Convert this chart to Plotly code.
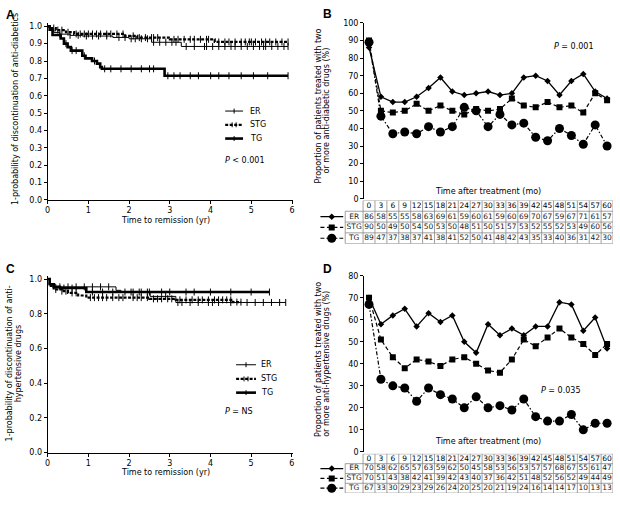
import numpy as np
import plotly.graph_objects as go

W, H = 620, 505
FONT = "DejaVu Sans"

# ---------------- data ----------------
# Panel A: Kaplan-Meier, anti-diabetics
A_ER_t = [0, 0.05, 0.15, 0.3, 0.55, 0.85, 1.6, 2.0, 2.55, 3.28, 5.9]
A_ER_s = [1.0, 0.98, 0.965, 0.955, 0.948, 0.944, 0.936, 0.928, 0.908, 0.884, 0.884]
A_STG_t = [0, 0.05, 0.2, 0.45, 0.65, 1.9, 2.2, 3.0, 4.1, 5.9]
A_STG_s = [1.0, 0.99, 0.978, 0.966, 0.956, 0.945, 0.935, 0.925, 0.91, 0.91]
A_TG_t = [0, 0.05, 0.12, 0.32, 0.4, 0.49, 0.57, 0.85, 0.93, 1.09, 1.21, 1.29, 1.33, 2.87, 5.9]
A_TG_s = [1.0, 0.98, 0.95, 0.93, 0.90, 0.88, 0.86, 0.83, 0.815, 0.80, 0.785, 0.765, 0.755, 0.715, 0.715]
A_ER_c = [0.3, 0.55, 0.75, 0.95, 1.1, 1.25, 1.45, 1.75, 1.9, 2.05, 2.15, 2.3, 2.45, 2.6, 2.75,
          2.9, 3.05, 3.15, 3.4, 3.6, 3.85, 3.9, 4.05, 4.2, 4.35, 4.5, 4.6, 4.75, 4.9, 5.05,
          5.2, 5.3, 5.35, 5.5, 5.65, 5.8, 5.9]
A_STG_c = [0.15, 0.25, 0.35, 0.5, 0.7, 0.8, 0.9, 1.0, 1.1, 1.2, 1.3, 1.45, 1.55, 1.7, 1.85,
           2.1, 2.25, 2.4, 2.55, 2.6, 2.7, 3.1, 3.2, 3.35, 3.5, 3.6, 3.75, 3.9, 3.95, 4.2,
           4.35, 4.45, 4.6, 4.75, 4.85, 4.95, 5.0, 5.1, 5.25, 5.35, 5.45, 5.6, 5.75, 5.9]
A_TG_c = [0.45, 0.6, 0.7, 0.9, 1.15, 1.4, 1.55, 1.8, 2.05, 2.3, 2.5, 2.6, 2.95, 3.1, 3.25,
          3.5, 3.7, 4.0, 4.2, 4.45, 4.75, 5.05, 5.4, 5.9]

# Panel C: Kaplan-Meier, anti-hypertensives
C_ER_t = [0, 0.05, 0.2, 1.68, 1.8, 2.52, 3.15, 5.85]
C_ER_s = [1.0, 0.97, 0.955, 0.935, 0.925, 0.9, 0.865, 0.865]
C_STG_t = [0, 0.05, 0.15, 0.35, 0.5, 0.75, 0.95, 2.5, 3.15, 4.55, 4.75]
C_STG_s = [1.0, 0.96, 0.94, 0.93, 0.92, 0.905, 0.893, 0.886, 0.88, 0.867, 0.867]
C_TG_t = [0, 0.05, 0.15, 0.3, 0.95, 5.45]
C_TG_s = [1.0, 0.97, 0.955, 0.948, 0.925, 0.925]
C_ER_c = [0.3, 0.5, 0.7, 0.9, 1.1, 1.3, 1.5, 1.9, 2.05, 2.25, 2.45, 2.9, 3.2, 3.3, 3.5,
          3.7, 3.95, 4.05, 4.2, 4.5, 4.9, 5.1, 5.3, 5.5, 5.7, 5.85]
C_STG_c = [0.2, 0.35, 0.45, 0.6, 0.7, 1.05, 1.15, 1.25, 1.35, 1.45, 1.6, 1.75, 1.85, 2.1,
           2.2, 2.3, 2.45, 2.6, 2.7, 2.8, 2.95, 3.05, 3.25, 3.4, 3.55, 3.7, 3.8, 3.95, 4.1,
           4.2, 4.3, 4.4, 4.5, 4.65, 4.75]
C_TG_c = [0.4, 0.6, 1.1, 1.35, 1.6, 2.1, 2.3, 2.5, 2.8, 3.0, 3.4, 3.6, 4.0, 4.5, 5.0, 5.45]

# Panels B and D
months = [0, 3, 6, 9, 12, 15, 18, 21, 24, 27, 30, 33, 36, 39, 42, 45, 48, 51, 54, 57, 60]
B_ER = [86, 58, 55, 55, 58, 63, 69, 61, 59, 60, 61, 59, 60, 69, 70, 67, 59, 67, 71, 61, 57]
B_STG = [90, 50, 49, 50, 54, 50, 53, 50, 48, 51, 50, 51, 57, 53, 52, 55, 52, 53, 49, 60, 56]
B_TG = [89, 47, 37, 38, 37, 41, 38, 41, 52, 50, 41, 48, 42, 43, 35, 33, 40, 36, 31, 42, 30]
D_ER = [70, 58, 62, 65, 57, 63, 59, 62, 50, 45, 58, 53, 56, 53, 57, 57, 68, 67, 55, 61, 47]
D_STG = [70, 51, 43, 38, 42, 41, 39, 42, 43, 40, 37, 36, 42, 51, 48, 52, 56, 52, 49, 44, 49]
D_TG = [67, 33, 30, 29, 23, 29, 26, 24, 20, 25, 20, 21, 19, 24, 16, 14, 14, 17, 10, 13, 13]
groups = ["ER", "STG", "TG"]


def px(x):
    return x / W


def py(y):
    return 1 - y / H


def step_at(ts, ss, c):
    ts = np.asarray(ts)
    idx = np.searchsorted(ts, np.asarray(c), side="right") - 1
    return [ss[i] for i in idx]


fig = go.Figure()

km_style = {
    "ER": dict(width=1, dash="solid"),
    "STG": dict(width=2.2, dash="3px,1.5px"),
    "TG": dict(width=2.6, dash="solid"),
}


def add_km(xa, ya, t, s, c, name):
    st = km_style[name]
    fig.add_trace(go.Scatter(x=t, y=s, mode="lines", line=dict(color="black", shape="hv", **st),
                             xaxis=xa, yaxis=ya, showlegend=False, hoverinfo="skip"))
    fig.add_trace(go.Scatter(x=c, y=step_at(t, s, c), mode="markers",
                             marker=dict(symbol="line-ns-open", size=5, color="black",
                                         line=dict(width=1, color="black")),
                             xaxis=xa, yaxis=ya, showlegend=False, hoverinfo="skip"))


add_km("x", "y", A_ER_t, A_ER_s, A_ER_c, "ER")
add_km("x", "y", A_STG_t, A_STG_s, A_STG_c, "STG")
add_km("x", "y", A_TG_t, A_TG_s, A_TG_c, "TG")
add_km("x4", "y4", C_ER_t, C_ER_s, C_ER_c, "ER")
add_km("x4", "y4", C_STG_t, C_STG_s, C_STG_c, "STG")
add_km("x4", "y4", C_TG_t, C_TG_s, C_TG_c, "TG")

ln_style = {
    "ER": dict(line=dict(color="black", width=1.3, dash="solid"),
               marker=dict(symbol="diamond", size=5, color="black")),
    "STG": dict(line=dict(color="black", width=1.2, dash="4px,2.5px"),
                marker=dict(symbol="square", size=6, color="black")),
    "TG": dict(line=dict(color="black", width=1.2, dash="4px,2px,1.5px,2px"),
               marker=dict(symbol="circle", size=9, color="black")),
}

for xa, ya, series in [("x2", "y2", [B_ER, B_STG, B_TG]), ("x5", "y5", [D_ER, D_STG, D_TG])]:
    for g, vals in zip(groups, series):
        fig.add_trace(go.Scatter(x=months, y=vals, mode="lines+markers", xaxis=xa, yaxis=ya,
                                 showlegend=False, hoverinfo="skip", **ln_style[g]))

# ---------------- tables ----------------
shapes = []
annotations = []


def add_table(xa, ya, series, fsize):
    fig.add_trace(go.Scatter(x=months, y=[-0.5] * len(months), mode="text",
                             text=[str(m) for m in months],
                             textfont=dict(family=FONT, size=fsize, color="black"),
                             xaxis=xa, yaxis=ya, showlegend=False, hoverinfo="skip"))
    for r, (g, vals) in enumerate(zip(groups, series)):
        yc = -1.5 - r
        fig.add_trace(go.Scatter(x=months, y=[yc] * len(months), mode="text",
                                 text=[str(v) for v in vals],
                                 textfont=dict(family=FONT, size=fsize, color="#222"),
                                 xaxis=xa, yaxis=ya, showlegend=False, hoverinfo="skip"))
        fig.add_trace(go.Scatter(x=[-3.75], y=[yc], mode="text", text=[g],
                                 textfont=dict(family=FONT, size=fsize, color="#222"),
                                 xaxis=xa, yaxis=ya, showlegend=False, hoverinfo="skip"))
        st = ln_style[g]
        fig.add_trace(go.Scatter(x=[-12.25, -6.5], y=[yc, yc], mode="lines", line=st["line"],
                                 xaxis=xa, yaxis=ya, showlegend=False, hoverinfo="skip"))
        fig.add_trace(go.Scatter(x=[-9.4], y=[yc], mode="markers", marker=st["marker"],
                                 xaxis=xa, yaxis=ya, showlegend=False, hoverinfo="skip"))
    lc = dict(color="#888", width=0.8)
    for k in range(len(months) + 1):
        xv = months[0] - 1.5 + 3 * k
        shapes.append(dict(type="line", xref=xa, yref=ya, x0=xv, x1=xv, y0=0, y1=-4, line=lc))
    shapes.append(dict(type="line", xref=xa, yref=ya, x0=-6, x1=-6, y0=-1, y1=-4, line=lc))
    shapes.append(dict(type="line", xref=xa, yref=ya, x0=-1.5, x1=61.5, y0=0, y1=0, line=lc))
    for yv in [-1, -2, -3, -4]:
        shapes.append(dict(type="line", xref=xa, yref=ya, x0=-6, x1=61.5, y0=yv, y1=yv, line=lc))


add_table("x3", "y3", [B_ER, B_STG, B_TG], 7.5)
add_table("x6", "y6", [D_ER, D_STG, D_TG], 7.5)

# ---------------- axes ----------------
tickfont = dict(family=FONT, size=8, color="black")
base_ax = dict(showgrid=False, zeroline=False, showline=True, linecolor="black", linewidth=1,
               ticks="outside", ticklen=3, tickcolor="black", tickwidth=1, tickfont=tickfont,
               fixedrange=True)
hidden = dict(visible=False, fixedrange=True, showgrid=False, zeroline=False)

layout_axes = dict(
    xaxis=dict(domain=[px(45), px(292.3)], range=[0, 6.02], anchor="y", dtick=1, **base_ax),
    yaxis=dict(domain=[py(199.3), py(19.2)], range=[0, 1.02], anchor="x", dtick=0.1,
               tickformat=".1f", **base_ax),
    xaxis2=dict(domain=[px(363), px(615)], range=[-1.5, 61.5], anchor="y2", **hidden),
    yaxis2=dict(domain=[py(198.3), py(19.3)], range=[0, 100], anchor="free", position=px(363),
                dtick=10, **base_ax),
    xaxis3=dict(domain=[px(318), px(615)], range=[-12.75, 61.5], anchor="y3", **hidden),
    yaxis3=dict(domain=[py(244), py(200)], range=[-4, 0], anchor="x3", **hidden),
    xaxis4=dict(domain=[px(45), px(292)], range=[0, 6.02], anchor="y4", dtick=1, **base_ax),
    yaxis4=dict(domain=[py(456.7), py(276.5)], range=[0, 1.02], anchor="x4", dtick=0.2,
                tickformat=".1f", **base_ax),
    xaxis5=dict(domain=[px(363), px(615)], range=[-1.5, 61.5], anchor="y5", **hidden),
    yaxis5=dict(domain=[py(456), py(276.7)], range=[0, 80], anchor="free", position=px(363),
                dtick=10, **base_ax),
    xaxis6=dict(domain=[px(318), px(615)], range=[-12.75, 61.5], anchor="y6", **hidden),
    yaxis6=dict(domain=[py(498), py(458)], range=[-4, 0], anchor="x6", **hidden),
)


def ann(text, x, y, size=8, xanchor="center", yanchor="middle", angle=0, bold=False):
    annotations.append(dict(text=f"<b>{text}</b>" if bold else text, x=px(x), y=py(y),
                            xref="paper", yref="paper", showarrow=False, xanchor=xanchor,
                            yanchor=yanchor, textangle=angle,
                            font=dict(family=FONT if not bold else "Liberation Sans",
                                      size=size, color="black")))


ann("A", 7.5, 11, size=12, bold=True)
ann("B", 327.5, 10, size=12, bold=True)
ann("C", 7.5, 270, size=12, bold=True)
ann("D", 327.5, 270, size=12, bold=True)

ann("Time to remission (yr)", 164, 220)
ann("Time to remission (yr)", 164, 477)
ann("1-probability of discontinuation of anti-diabetics", 12, 107, angle=-90)
ann("1-probability of discontinuation of anti-", 7, 366, angle=-90)
ann("hypertensive drugs", 16, 366, angle=-90)
ann("Proportion of patients treated with two", 318, 104, angle=-90)
ann("or more anti-diabetic drugs (%)", 326, 108, angle=-90)
ann("Proportion of patients treated with two", 318, 362, angle=-90)
ann("or more anti-hypertensive drugs (%)", 326, 366, angle=-90)
ann("Time after treatment (mo)", 489, 191)
ann("Time after treatment (mo)", 489, 445)

ann("<i>P</i> < 0.001", 222, 159, xanchor="left")
ann("<i>P</i> = NS", 222, 415, xanchor="left")
ann("<i>P</i> = 0.001", 553, 43, xanchor="left")
ann("<i>P</i> = 0.035", 540, 394, xanchor="left")


def km_legend(x0, x1, xt, ys):
    for g, yv in zip(groups, ys):
        st = km_style[g]
        shapes.append(dict(type="line", xref="paper", yref="paper", x0=px(x0), x1=px(x1),
                           y0=py(yv), y1=py(yv),
                           line=dict(color="black", width=st["width"], dash=st["dash"])))
        xm = (x0 + x1) / 2
        for xx in ([xm] if g != "STG" else [xm - 2, xm + 2]):
            shapes.append(dict(type="line", xref="paper", yref="paper", x0=px(xx), x1=px(xx),
                               y0=py(yv - 2.5), y1=py(yv + 2.5),
                               line=dict(color="black", width=1)))
        ann(g, xt, yv, xanchor="left")


km_legend(224, 242, 246.5, [109, 123, 137])
km_legend(235, 255, 258, [367.3, 381.7, 395.7])

fig.update_layout(
    width=W, height=H, margin=dict(l=0, r=0, t=0, b=0),
    paper_bgcolor="white", plot_bgcolor="rgba(0,0,0,0)",
    showlegend=False, shapes=shapes, annotations=annotations,
    font=dict(family=FONT, size=8, color="black"),
    **layout_axes,
)

fig.write_html("out.html", config={"displayModeBar": False},
               post_script="document.body.style.margin='0';document.body.style.overflow='hidden';")
